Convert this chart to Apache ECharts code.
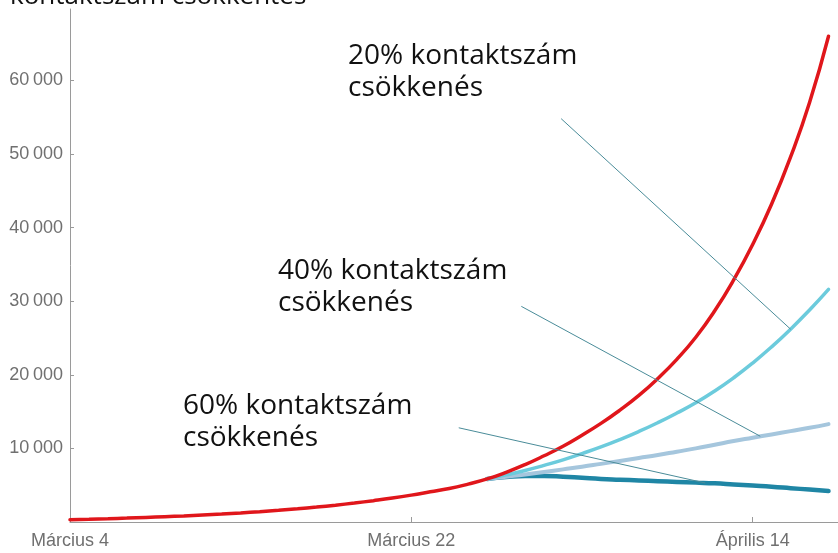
<!DOCTYPE html>
<html>
<head>
<meta charset="utf-8">
<script src="https://cdn.jsdelivr.net/npm/echarts@6/dist/echarts.min.js"></script>
<style>
    html, body { margin: 0; padding: 0; background: #fff; }
    #chart { width: 838px; height: 553px; }
</style>
</head>
<body>
<div id="chart"></div>
<script>
// x = days since Március 4 (as spaced on the original axis)
const tickDays = [0, 18, 36]
const tickLabels = ['Március 4', 'Március 22', 'Április 14']
const yTicks = [10000, 20000, 30000, 40000, 50000, 60000]

// no reduction, day 0..40
const noReduction = [
    320, 380, 450, 530, 620, 720, 830, 950, 1080, 1230,
    1400, 1590, 1800, 2030, 2290, 2580, 2900, 3250, 3650, 4100,
    4550, 5150, 5850, 6750, 7800, 9000, 10300, 11800, 13400, 15200,
    17200, 19500, 22100, 25100, 28700, 32900, 37700, 43200, 49600, 57000,
    66000,
]
// scenarios branch off at this day, values day 22..40
const branchStart = 22
const reduction20 = [
    5850, 6400, 7000, 7700, 8450, 9300, 10200, 11200, 12300, 13500,
    14800, 16200, 17800, 19600, 21600, 23800, 26200, 28800, 31600,
]
const reduction40 = [
    5850, 6150, 6450, 6800, 7150, 7500, 7900, 8300, 8700, 9100,
    9550, 10000, 10500, 11000, 11450, 11900, 12350, 12800, 13300,
]
const reduction60 = [
    5850, 6100, 6250, 6250, 6150, 6000, 5850, 5750, 5650, 5550,
    5450, 5350, 5250, 5100, 4950, 4800, 4600, 4400, 4200,
]

// pointer lines: [startDay, startValue, endDay, endValue]
const pointer20 = [25.9, 54800, 38.0, 26200]
const pointer40 = [23.8, 29300, 36.4, 11650]
const pointer60 = [20.5, 12800, 33.5, 5300]

const noteTexts = ['20% kontaktszám\ncsökkenés', '40% kontaktszám\ncsökkenés', '60% kontaktszám\ncsökkenés']
const titleText = 'kontaktszám csökkentés'

const el = document.getElementById('chart')
const chart = echarts.init(el, null, { renderer: 'canvas' })

const toPairs = (values, start) => values.map((v, i) => [start + i, v])
const fmtThousands = v => {
    const s = String(v)
    return s.length > 3 ? s.slice(0, -3) + '\u2009' + s.slice(-3) : s
}
const pointerLine = p => ({
    silent: true,
    symbol: 'none',
    animation: false,
    lineStyle: { color: '#4a8c99', width: 1, type: 'solid' },
    label: { show: false },
    data: [[{ coord: [p[0], p[1]] }, { coord: [p[2], p[3]] }]],
})
const curve = (name, data, color, width, z, pointer) => ({
    name,
    type: 'line',
    data,
    smooth: true,
    symbol: 'none',
    z,
    lineStyle: { color, width, cap: 'round' },
    markLine: pointer ? pointerLine(pointer) : undefined,
})

const axisGray = '#9a9a9a'
const labelGray = '#707070'
const noteFont = '28px "Open Sans", sans-serif'

chart.setOption({
    backgroundColor: '#fff',
    animation: false,
    grid: { left: 70, right: 0, top: 9, bottom: 31 },
    xAxis: {
        type: 'value',
        min: 0,
        max: 40.5,
        axisLine: { show: true, lineStyle: { color: axisGray, width: 1 } },
        axisTick: { show: true, inside: true, length: 5, lineStyle: { color: axisGray }, customValues: tickDays.slice(1) },
        axisLabel: {
            color: labelGray,
            fontSize: 18,
            fontFamily: 'Liberation Sans, Arial, sans-serif',
            margin: 10,
            customValues: tickDays,
            formatter: v => tickLabels[tickDays.indexOf(v)] || '',
        },
        splitLine: { show: false },
    },
    yAxis: {
        type: 'value',
        min: 0,
        max: 69700,
        axisLine: { show: true, lineStyle: { color: axisGray, width: 1 } },
        axisTick: { show: true, inside: true, length: 4, lineStyle: { color: axisGray }, customValues: yTicks },
        axisLabel: {
            color: labelGray,
            fontSize: 18,
            fontFamily: 'Liberation Sans, Arial, sans-serif',
            margin: 7,
            customValues: yTicks,
            formatter: v => fmtThousands(v),
        },
        splitLine: { show: false },
    },
    series: [
        curve('60%', toPairs(reduction60, branchStart), '#1f86a5', 4.5, 2, pointer60),
        curve('40%', toPairs(reduction40, branchStart), '#a5c6dd', 4, 2, pointer40),
        curve('20%', toPairs(reduction20, branchStart), '#6ccbdc', 3.5, 2, pointer20),
        curve('0%', toPairs(noReduction, 0), '#e0161b', 3.5, 3),
    ],
    graphic: [
        { type: 'text', x: 10, y: -16, style: { text: titleText, font: '26px "Open Sans", sans-serif', fill: '#111' } },
        { type: 'text', x: 348, y: 40, style: { text: noteTexts[0], font: noteFont, fill: '#111', lineHeight: 32 } },
        { type: 'text', x: 278, y: 255, style: { text: noteTexts[1], font: noteFont, fill: '#111', lineHeight: 32 } },
        { type: 'text', x: 183, y: 390, style: { text: noteTexts[2], font: noteFont, fill: '#111', lineHeight: 32 } },
    ],
})
</script>
</body>
</html>
